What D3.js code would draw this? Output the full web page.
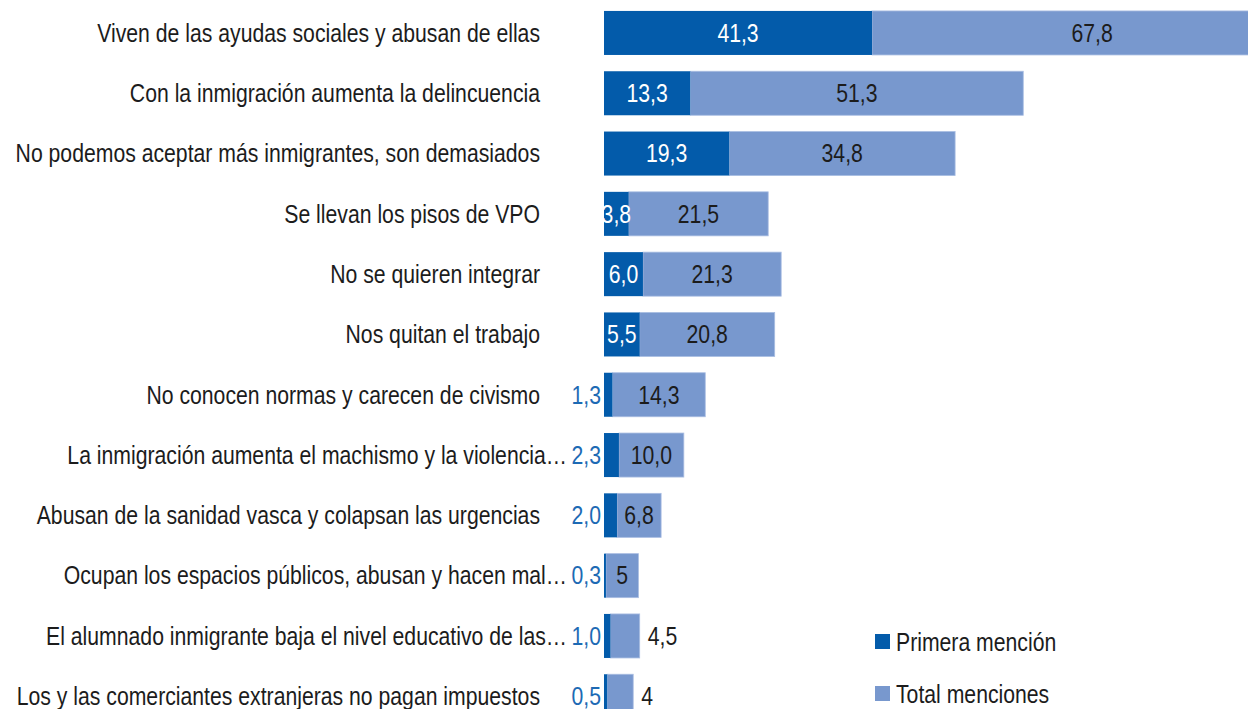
<!DOCTYPE html>
<html>
<head>
<meta charset="utf-8">
<script src="https://cdn.jsdelivr.net/npm/d3@7"></script>
<style>
  html, body { margin: 0; padding: 0; background: #fff; overflow: hidden; }
  svg { display: block; font-family: "Liberation Sans", Arial, sans-serif; }
</style>
</head>
<body>
<svg id="chart" width="1248" height="709"></svg>
<script>
const width = 1248;
const height = 709;

const categories = [
    "Viven de las ayudas sociales y abusan de ellas",
    "Con la inmigración aumenta la delincuencia",
    "No podemos aceptar más inmigrantes, son demasiados",
    "Se llevan los pisos de VPO",
    "No se quieren integrar",
    "Nos quitan el trabajo",
    "No conocen normas y carecen de civismo",
    "La inmigración aumenta el machismo y la violencia…",
    "Abusan de la sanidad vasca y colapsan las urgencias",
    "Ocupan los espacios públicos, abusan y hacen mal…",
    "El alumnado inmigrante baja el nivel educativo de las…",
    "Los y las comerciantes extranjeras no pagan impuestos"
];
const primera = [41.3, 13.3, 19.3, 3.8, 6.0, 5.5, 1.3, 2.3, 2.0, 0.3, 1.0, 0.5];
const total = [67.8, 51.3, 34.8, 21.5, 21.3, 20.8, 14.3, 10.0, 6.8, 5, 4.5, 4];
const totalLabels = ["67,8", "51,3", "34,8", "21,5", "21,3", "20,8", "14,3", "10,0", "6,8", "5", "4,5", "4"];
const seriesNames = ["Primera mención", "Total menciones"];

const darkBlue = "#035BAA";
const lightBlue = "#7898CE";
const labelBlue = "#1D6AB4";
const textColor = "#1c1c1c";
const fontSize = 25;

const rows = categories.map((c, i) => ({
    cat: c,
    p: primera[i],
    t: total[i],
    tLabel: totalLabels[i]
}));

const fmt = v => d3.format(".1f")(v).replace(".", ",");

const x = d3.scaleLinear().domain([0, 100]).range([604, 604 + 649]);
const y = d3.scaleBand()
    .domain(categories)
    .range([2.8, 2.8 + 723.6])
    .paddingInner(0.27)
    .paddingOuter(0.135);

const svg = d3.select("#chart");

// measure the font to squeeze it like the condensed face of the original
const probe = svg.append("text").attr("font-size", fontSize).text(categories[0]);
const squeeze = 443 / probe.node().getComputedTextLength();
probe.remove();

const place = (sel, fx, fy) =>
    sel.attr("transform", (d, i) => `translate(${fx(d, i)},${fy(d, i)}) scale(${squeeze},1)`)
        .attr("dy", "0.35em")
        .attr("font-size", fontSize);

svg.append("defs").append("clipPath")
    .attr("id", "plotClip")
    .append("rect")
    .attr("x", x(0))
    .attr("y", 0)
    .attr("width", width - x(0))
    .attr("height", height);

const plot = svg.append("g").attr("clip-path", "url(#plotClip)");

const midY = d => y(d.cat) + y.bandwidth() / 2;

// light segment (stacked after the first mention)
plot.selectAll("rect.total")
    .data(rows)
    .join("rect")
    .attr("class", "total")
    .attr("x", d => x(d.p))
    .attr("y", d => y(d.cat))
    .attr("width", d => x(d.p + d.t) - x(d.p))
    .attr("height", y.bandwidth())
    .attr("fill", lightBlue)
    .attr("stroke", "#a9bde2")
    .attr("stroke-width", 0.8);

plot.selectAll("rect.primera")
    .data(rows)
    .join("rect")
    .attr("class", "primera")
    .attr("x", x(0))
    .attr("y", d => y(d.cat))
    .attr("width", d => x(d.p) - x(0))
    .attr("height", y.bandwidth())
    .attr("fill", darkBlue);

// first mention labels: inside (white) or outside left (blue)
plot.selectAll("text.pin")
    .data(rows.filter(d => d.p >= 3))
    .join("text")
    .attr("class", "pin")
    .call(place, d => (x(0) + x(d.p)) / 2, midY)
    .attr("text-anchor", "middle")
    .attr("fill", "#fff")
    .text(d => fmt(d.p));

svg.selectAll("text.pout")
    .data(rows.filter(d => d.p < 3))
    .join("text")
    .attr("class", "pout")
    .call(place, () => x(0) - 3, midY)
    .attr("text-anchor", "end")
    .attr("fill", labelBlue)
    .text(d => fmt(d.p));

// total labels
const outside = d => d.t < 4.8;
plot.selectAll("text.tlab")
    .data(rows)
    .join("text")
    .attr("class", "tlab")
    .call(place, d => outside(d) ? x(d.p + d.t) + 8 : (x(d.p) + x(d.p + d.t)) / 2, midY)
    .attr("text-anchor", d => outside(d) ? "start" : "middle")
    .attr("fill", textColor)
    .text(d => d.tLabel);

// category labels (the truncated ones run up to the outside value labels)
svg.selectAll("text.cat")
    .data(rows)
    .join("text")
    .attr("class", "cat")
    .call(place, d => d.cat.endsWith("…") ? 567 : 540, midY)
    .attr("text-anchor", "end")
    .attr("fill", textColor)
    .text(d => d.cat);

// legend
const legend = svg.append("g").attr("transform", "translate(875,634)");
const legendItems = legend.selectAll("g")
    .data(seriesNames)
    .join("g")
    .attr("transform", (d, i) => `translate(0,${i * 52})`);
legendItems.append("rect")
    .attr("width", 15)
    .attr("height", 15)
    .attr("fill", (d, i) => i === 0 ? darkBlue : lightBlue);
legendItems.append("text")
    .call(place, () => 21, () => 8)
    .attr("fill", textColor)
    .text(d => d);
</script>
</body>
</html>
